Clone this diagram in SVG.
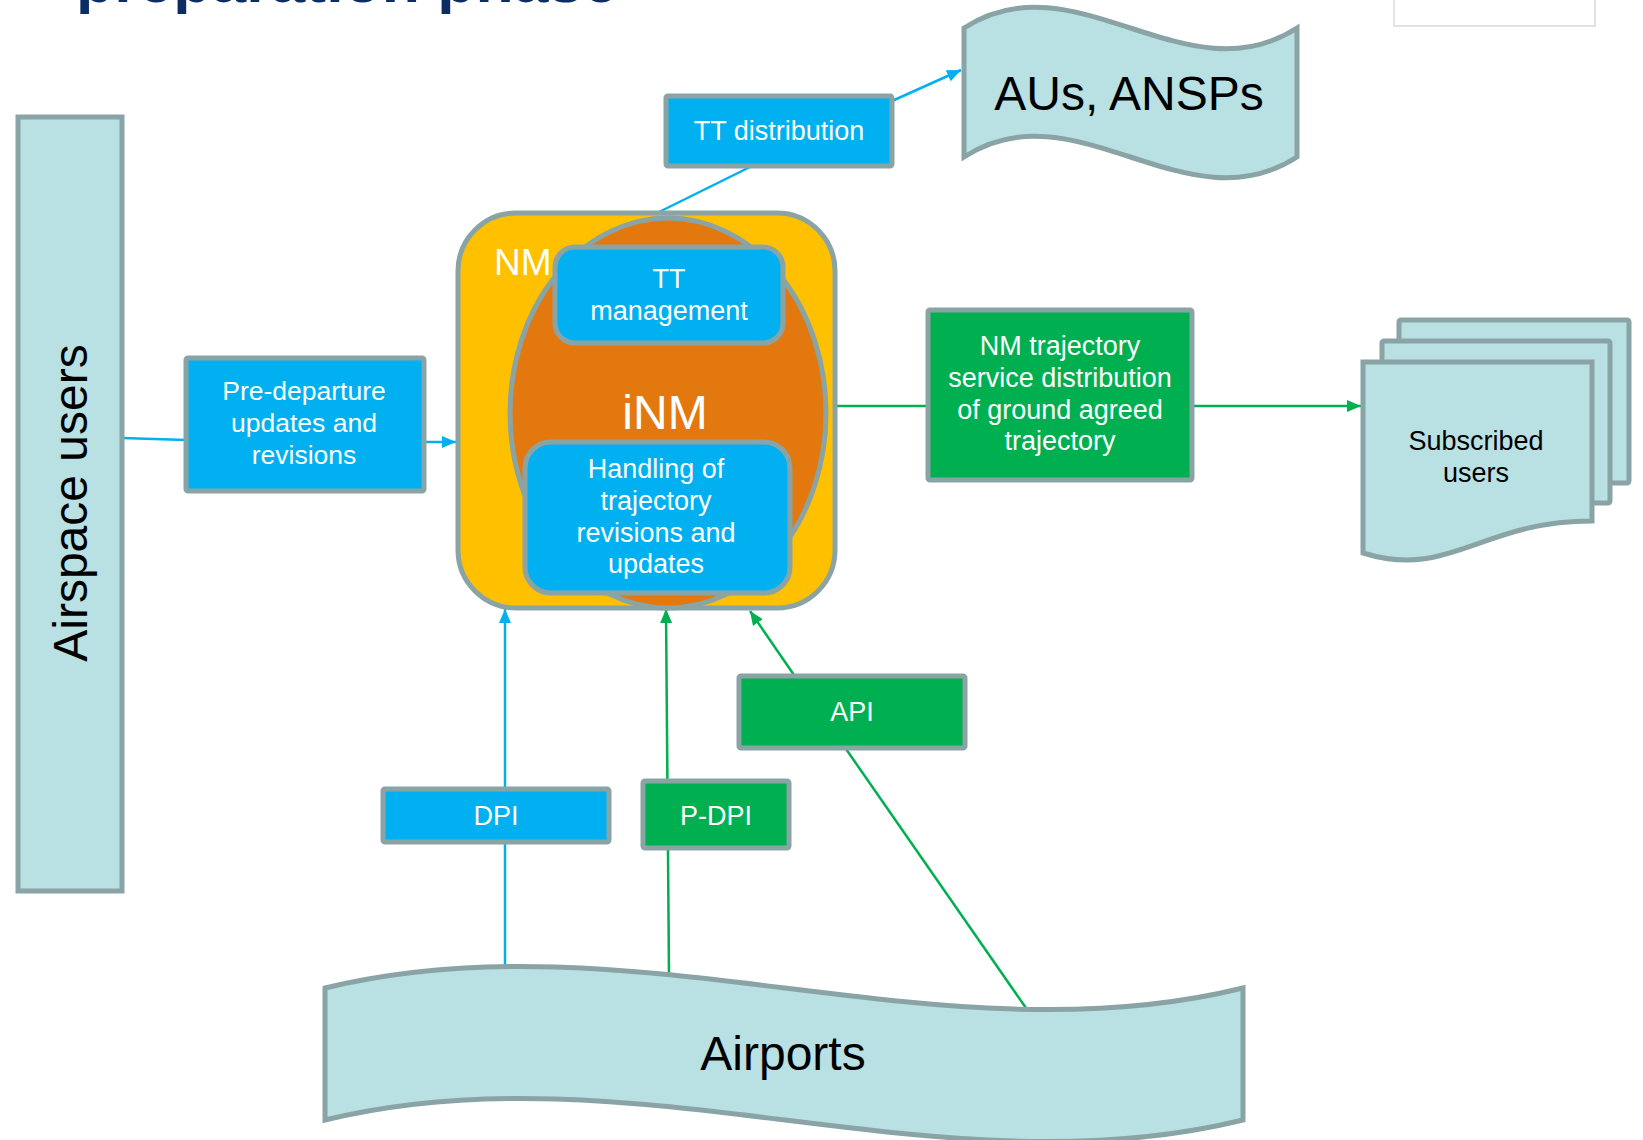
<svg xmlns="http://www.w3.org/2000/svg" width="1643" height="1140" viewBox="0 0 1643 1140">
<style>
  .t { font-family: "Liberation Sans", Arial, sans-serif; }
  .w { fill: #ffffff; }
  .k { fill: #000000; }
  .shape { stroke: #8aa4a6; stroke-width: 5; }
  .teal { fill: #b9e0e3; }
  .blue { fill: #00b0f0; }
  .green { fill: #00b050; }
  .lb { stroke: #00b0f0; stroke-width: 2.5; fill: none; }
  .lg { stroke: #00b050; stroke-width: 2.5; fill: none; }
</style>
<defs>
  <marker id="ab" markerUnits="userSpaceOnUse" markerWidth="16" markerHeight="14" refX="14" refY="6" orient="auto">
    <path d="M0,0 L14,6 L0,12 z" fill="#00b0f0"/>
  </marker>
  <marker id="ag" markerUnits="userSpaceOnUse" markerWidth="16" markerHeight="14" refX="14" refY="6" orient="auto">
    <path d="M0,0 L14,6 L0,12 z" fill="#00b050"/>
  </marker>
</defs>
<rect width="1643" height="1140" fill="#ffffff"/>

<g id="title">
  <text class="t" x="76" y="2" font-size="60" font-weight="bold" fill="#0b2d63" textLength="542" lengthAdjust="spacingAndGlyphs">preparation phase</text>
</g>
<g id="corner-box">
  <rect x="1394" y="-4" width="201" height="30" fill="#ffffff" stroke="#e2e2e2" stroke-width="2"/>
</g>

<g id="connectors">
  <line class="lb" x1="122" y1="438" x2="186" y2="440"/>
  <line class="lb" x1="424" y1="442" x2="456" y2="442" marker-end="url(#ab)"/>
  <line class="lb" x1="657" y1="213" x2="752" y2="166"/>
  <line class="lb" x1="892" y1="101" x2="961" y2="70" marker-end="url(#ab)"/>
  <line class="lg" x1="836" y1="406" x2="928" y2="406"/>
  <line class="lg" x1="1192" y1="406" x2="1361" y2="406" marker-end="url(#ag)"/>
  <line class="lb" x1="505" y1="967" x2="505" y2="609" marker-end="url(#ab)"/>
  <line class="lg" x1="669" y1="975" x2="666" y2="609" marker-end="url(#ag)"/>
  <line class="lg" x1="1026" y1="1008" x2="846" y2="749"/>
  <line class="lg" x1="794" y1="675" x2="750" y2="611" marker-end="url(#ag)"/>
</g>

<g id="airspace-users">
  <rect class="shape teal" x="18" y="117" width="104" height="774"/>
  <text class="t k" x="0" y="0" font-size="48" text-anchor="middle" transform="translate(87,503) rotate(-90)">Airspace users</text>
</g>

<g id="pre-departure">
  <rect class="shape blue" x="186" y="358" width="238" height="133" rx="2"/>
  <text class="t w" font-size="26.5" text-anchor="middle"><tspan x="304" y="400">Pre-departure</tspan><tspan x="304" y="432">updates and</tspan><tspan x="304" y="464">revisions</tspan></text>
</g>

<g id="nm">
  <rect class="shape" fill="#ffc000" x="458" y="213" width="377" height="395" rx="58"/>
  <text class="t w" x="494" y="275" font-size="37">NM</text>
</g>
<g id="inm">
  <ellipse class="shape" fill="#e3780f" cx="668" cy="413" rx="158" ry="195"/>
  <text class="t w" x="665" y="429" font-size="48" text-anchor="middle">iNM</text>
</g>
<g id="tt-management">
  <rect class="shape blue" x="555" y="247" width="228" height="96" rx="20"/>
  <text class="t w" font-size="27" text-anchor="middle"><tspan x="669" y="288">TT</tspan><tspan x="669" y="320">management</tspan></text>
</g>
<g id="handling">
  <rect class="shape blue" x="525" y="442" width="265" height="151" rx="26"/>
  <text class="t w" font-size="27" text-anchor="middle"><tspan x="656" y="478">Handling of</tspan><tspan x="656" y="510">trajectory</tspan><tspan x="656" y="542">revisions and</tspan><tspan x="656" y="573">updates</tspan></text>
</g>

<g id="tt-distribution">
  <rect class="shape blue" x="666" y="96" width="226" height="70" rx="2"/>
  <text class="t w" x="779" y="140" font-size="27" text-anchor="middle">TT distribution</text>
</g>

<g id="aus-ansps">
  <path class="shape teal" d="M964,28 C1075,-44 1186,100 1297,28 L1297,157 C1186,229 1075,85 964,157 Z"/>
  <text class="t k" x="1129" y="110" font-size="48" text-anchor="middle">AUs, ANSPs</text>
</g>

<g id="nm-trajectory-service">
  <rect class="shape green" x="928" y="310" width="264" height="170" rx="2"/>
  <text class="t w" font-size="27" text-anchor="middle"><tspan x="1060" y="355">NM trajectory</tspan><tspan x="1060" y="387">service distribution</tspan><tspan x="1060" y="419">of ground agreed</tspan><tspan x="1060" y="450">trajectory</tspan></text>
</g>

<g id="subscribed-users">
  <rect class="shape teal" x="1399" y="320" width="230" height="163" rx="2"/>
  <rect class="shape teal" x="1382" y="341" width="228" height="162" rx="2"/>
  <path class="shape teal" d="M1363,362 L1592,362 L1592,521 C1480,521 1450,580 1363,553 Z"/>
  <text class="t k" font-size="27" text-anchor="middle"><tspan x="1476" y="450">Subscribed</tspan><tspan x="1476" y="482">users</tspan></text>
</g>

<g id="dpi">
  <rect class="shape blue" x="383" y="789" width="226" height="53" rx="2"/>
  <text class="t w" x="496" y="825" font-size="27" text-anchor="middle">DPI</text>
</g>
<g id="p-dpi">
  <rect class="shape green" x="643" y="781" width="146" height="67" rx="2"/>
  <text class="t w" x="716" y="825" font-size="27" text-anchor="middle">P-DPI</text>
</g>
<g id="api">
  <rect class="shape green" x="739" y="676" width="226" height="72" rx="2"/>
  <text class="t w" x="852" y="721" font-size="27" text-anchor="middle">API</text>
</g>

<g id="airports">
  <path class="shape teal" d="M325,988 C632,913 938,1063 1243,988 L1243,1120 C938,1195 632,1045 325,1120 Z"/>
  <text class="t k" x="783" y="1070" font-size="48" text-anchor="middle">Airports</text>
</g>
</svg>
